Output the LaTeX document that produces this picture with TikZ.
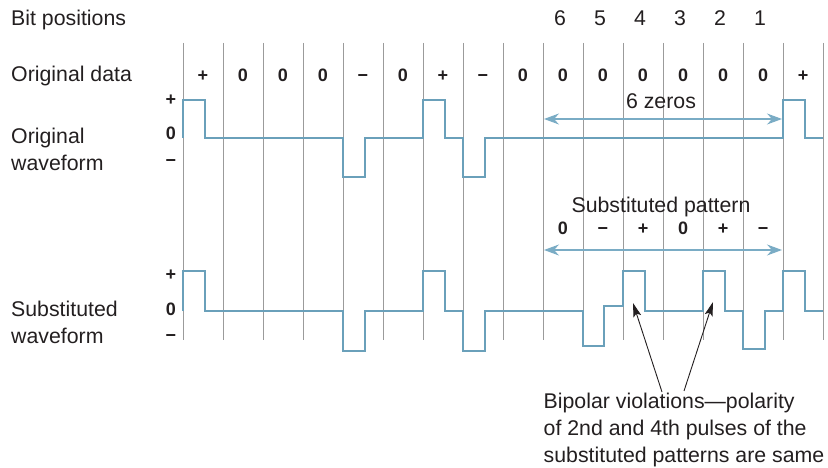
\documentclass[tikz,border=0pt]{standalone}
\usepackage{fontspec}
\setmainfont{Liberation Sans}
\usetikzlibrary{arrows.meta}
\definecolor{wavecol}{RGB}{106,160,186}
\definecolor{spancol}{RGB}{122,172,197}
\definecolor{gridcol}{RGB}{155,155,155}
\definecolor{inkcol}{RGB}{35,31,32}
\begin{document}
\begin{tikzpicture}[x=1pt,y=-1pt,
  lbl/.style={inner sep=0pt, font=\fontsize{21.3}{27}\selectfont, text=inkcol},
  sym/.style={inner sep=0pt, anchor=base, font=\fontsize{18}{20}\selectfont\bfseries, text=inkcol},
  gridline/.style={draw=gridcol, line width=1pt},
  wavepath/.style={draw=wavecol, line width=2.6pt, line join=miter},
  spanarrow/.style={draw=spancol, line width=1.2pt,
    {Stealth[length=15pt,width=11pt,inset=5pt]}-{Stealth[length=15pt,width=11pt,inset=5pt]}},
  pointer/.style={draw=inkcol, line width=0.9pt, -{Stealth[length=14pt,width=8pt,inset=3pt]}}]
\useasboundingbox (0,0) rectangle (828,468);

% grid
\foreach \i in {0,...,16}
  \draw[gridline] (183+40*\i,43) -- (183+40*\i,340);

% row titles
\node[lbl, anchor=base west] (bitpos) at (11,26) {Bit positions};
\node[lbl, anchor=base west] (origdata) at (11,82) {Original data};
\node[lbl, anchor=base west] (origw1) at (11,144) {Original};
\node[lbl, anchor=base west] (origw2) at (11,171) {waveform};
\node[lbl, anchor=base west] (subw1) at (11,316) {Substituted};
\node[lbl, anchor=base west] (subw2) at (11,343) {waveform};

% bit position numbers
\foreach \n [count=\i from 0] in {6,5,4,3,2,1}
  \node[lbl, anchor=base] (bp\n) at (560+40*\i,26) {\n};

% original data symbols
\foreach \s [count=\i from 0] in {+,0,0,0,−,0,+,−,0,0,0,0,0,0,0,+}
  \node[sym] (d\i) at (203+40*\i,82) {\s};

% level labels
\node[sym] (lop) at (171,106) {+};
\node[sym] (loz) at (171,140) {0};
\node[sym] (lom) at (171,167) {−};
\node[sym] (lsp) at (171,280) {+};
\node[sym] (lsz) at (171,315) {0};
\node[sym] (lsm) at (171,341) {−};

% original waveform
\draw[wavepath] (183,138) -- (183,100) -- (205,100) -- (205,138) -- (343,138)
  -- (343,177) -- (365,177) -- (365,138) -- (423,138) -- (423,100) -- (445,100)
  -- (445,138) -- (463,138) -- (463,177) -- (485,177) -- (485,138) -- (783,138)
  -- (783,100) -- (805,100) -- (805,138) -- (823,138);

% substituted waveform
\draw[wavepath] (183,311) -- (183,271) -- (205,271) -- (205,311) -- (343,311)
  -- (343,351) -- (365,351) -- (365,311) -- (423,311) -- (423,271) -- (445,271)
  -- (445,311) -- (463,311) -- (463,351) -- (485,351) -- (485,311) -- (583,311)
  -- (583,346) -- (604,346) -- (604,306) -- (623,306) -- (623,271) -- (645,271)
  -- (645,311) -- (703,311) -- (703,271) -- (725,271) -- (725,311) -- (743,311)
  -- (743,349) -- (765,349) -- (765,311) -- (783,311) -- (783,271) -- (805,271)
  -- (805,311) -- (823,311);

% 6 zeros span
\coordinate (z1) at (544,119);
\coordinate (z2) at (782,119);
\draw[spanarrow] (z1) -- (z2);
\node[lbl, anchor=base] (zeros) at (661,109) {6 zeros};

% substituted pattern
\node[lbl, anchor=base] (subpat) at (661,212) {Substituted pattern};
\foreach \s [count=\i from 0] in {0,−,+,0,+,−}
  \node[sym] (p\i) at (563+40*\i,235) {\s};
\coordinate (q1) at (544,250);
\coordinate (q2) at (782,250);
\draw[spanarrow] (q1) -- (q2);

% annotation
\node[lbl, anchor=north west, align=left] (note) at (543.5,393)
  {Bipolar violations—polarity\\of 2nd and 4th pulses of the\\substituted patterns are same};
\coordinate (s1) at (662,392);
\coordinate (s2) at (684,391);
\coordinate (t1) at (633,303);
\coordinate (t2) at (713,302);
\draw[pointer] (s1) -- (t1);
\draw[pointer] (s2) -- (t2);
\end{tikzpicture}
\end{document}
